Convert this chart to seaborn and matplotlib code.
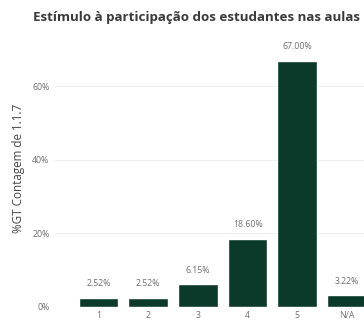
import matplotlib
matplotlib.use("Agg")
import matplotlib.pyplot as plt
import seaborn as sns
import pandas as pd

categories = ["1", "2", "3", "4", "5", "N/A"]
percentages = [2.52, 2.52, 6.15, 18.60, 67.00, 3.22]
y_ticks = [0, 20, 40, 60]
y_tick_labels = ["0%", "20%", "40%", "60%"]

title = "Estímulo à participação dos estudantes nas aulas"
y_label = "%GT Contagem de 1.1.7"

bar_color = "#0b3a2a"
text_gray = "#6f6f6f"

df = pd.DataFrame({"cat": categories, "pct": percentages})

sns.set_style("white")
plt.rcParams["font.family"] = ["Open Sans", "DejaVu Sans"]

W, H = 364, 321
fig = plt.figure(figsize=(W / 100, H / 100), dpi=100)
# axes in pixel terms: left 55, right runs past the figure edge, bottom at 307, top at 40
left, right, bottom, top = 55, 380, 307, 40
ax = fig.add_axes([left / W, (H - bottom) / H, (right - left) / W, (bottom - top) / H])

sns.barplot(data=df, x="cat", y="pct", color=bar_color, width=0.8,
            saturation=1, ax=ax, zorder=2)

ax.set_xlim(-0.875, 5.665)
ax.set_ylim(0, 72.6)
ax.set_yticks(y_ticks)
ax.set_yticklabels(y_tick_labels)
ax.yaxis.grid(True, color="#eeeeee", linewidth=0.8, zorder=0)
ax.set_axisbelow(True)
for s in ax.spines.values():
    s.set_visible(False)
ax.tick_params(axis="both", length=0, labelsize=6.3, labelcolor=text_gray)
ax.tick_params(axis="y", pad=4)
ax.tick_params(axis="x", pad=3)
ax.set_xlabel("")
ax.set_ylabel(y_label, fontsize=8.4, color="#454545", labelpad=4)
ax.yaxis.set_label_coords(-0.092, 0.52)

for i, v in enumerate(percentages):
    ax.text(i, v + 2.6, f"{v:.2f}%", ha="center", va="bottom",
            fontsize=6.3, color=text_gray)

fig.text(33 / W, 1 - 18 / H, title, ha="left", va="center",
         fontsize=9.6, fontweight="bold", color="#3a3a3a")

fig.savefig("out.png", dpi=100, facecolor="white")
